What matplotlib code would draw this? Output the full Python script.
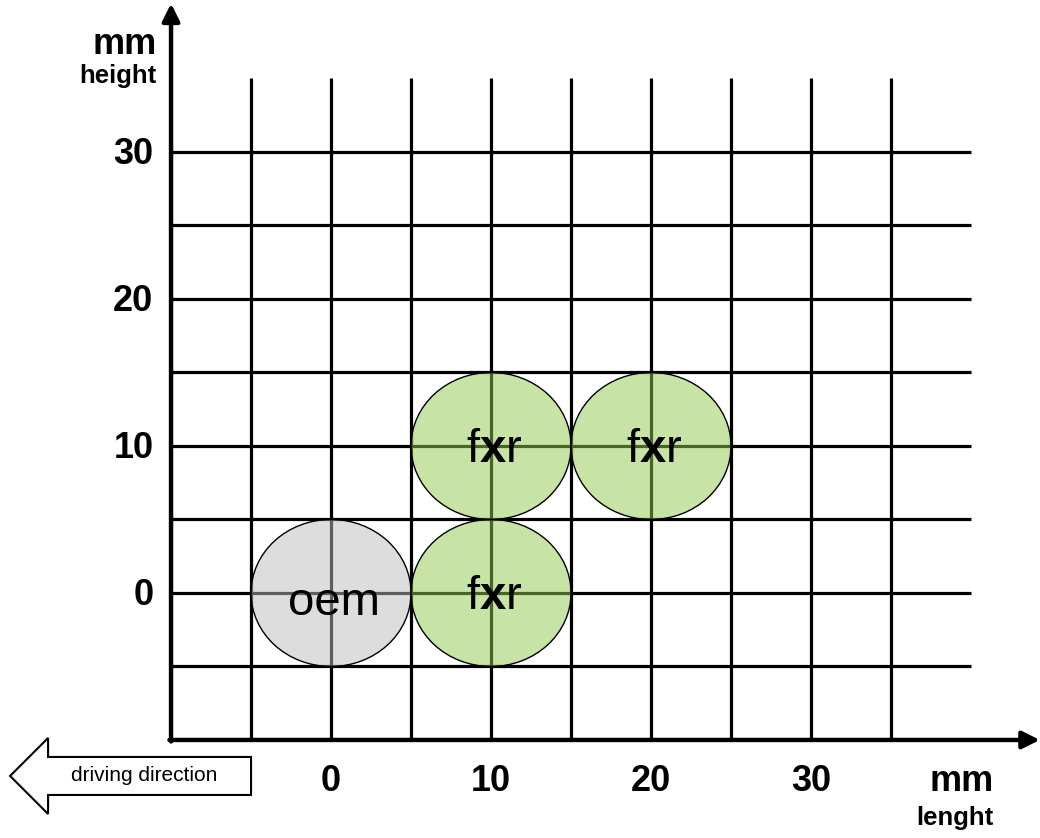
import matplotlib
matplotlib.use("Agg")
import matplotlib.pyplot as plt
from matplotlib.patches import Ellipse, FancyArrow

plt.rcParams['font.family'] = ['Liberation Sans', 'DejaVu Sans']
plt.rcParams['mathtext.fontset'] = 'custom'
plt.rcParams['mathtext.rm'] = 'Liberation Sans'
plt.rcParams['mathtext.bf'] = 'Liberation Sans:bold'

# ticks / grid (mm)
x_ticks = [0, 10, 20, 30]
y_ticks = [0, 10, 20, 30]
grid_x = [-5, 0, 5, 10, 15, 20, 25, 30, 35]
grid_y = [-5, 0, 5, 10, 15, 20, 25, 30]

# nozzles
circle_x = [0, 10, 10, 20]
circle_y = [0, 0, 10, 10]
circle_kind = ['oem', 'fxr', 'fxr', 'fxr']
circle_diam = 10

colors = {'oem': (0.74, 0.74, 0.74, 0.5), 'fxr': (0.565, 0.785, 0.30, 0.5)}
labels = {'oem': 'oem', 'fxr': r'$\mathrm{f}\mathbf{x}\mathrm{r}$'}
label_dy = {'oem': -1.5, 'fxr': -1.1}

fig = plt.figure(figsize=(10.4, 8.38), dpi=100)
ax = fig.add_axes([0, 0, 1, 1])
ax.set_xlim(-20.69, 44.31)
ax.set_ylim(-16.67, 40.34)
ax.axis('off')

# grid
ax.vlines(grid_x, -10, 35, color='black', lw=2.3, zorder=1)
ax.hlines(grid_y, -10, 40, color='black', lw=2.3, zorder=1)

# axes with arrows
ax.annotate('', xy=(44.3, -10), xytext=(-10.1, -10),
            arrowprops=dict(arrowstyle='-|>', lw=3.2, color='black', mutation_scale=26,
                            shrinkA=0, shrinkB=0), zorder=3)
ax.annotate('', xy=(-10, 40.1), xytext=(-10, -10.1),
            arrowprops=dict(arrowstyle='-|>', lw=3.2, color='black', mutation_scale=26,
                            shrinkA=0, shrinkB=0), zorder=3)

# circles
for cx, cy, k in zip(circle_x, circle_y, circle_kind):
    ax.add_patch(Ellipse((cx, cy), circle_diam, circle_diam, facecolor=colors[k],
                         edgecolor='black', lw=1.0, zorder=2))
    ax.text(cx + 0.2, cy + label_dy[k], labels[k], fontsize=34, ha='center',
            va='baseline', zorder=4)

# tick labels
for v in x_ticks:
    ax.text(v, -12.85, str(v), fontsize=26, fontweight='bold', ha='center', va='center')
for v in y_ticks:
    ax.text(-11.1, v - 0.2, str(v), fontsize=26, fontweight='bold', ha='right', va='center')

# axis titles
ax.text(-10.9, 36.7, 'mm', fontsize=26, fontweight='bold', ha='right', va='baseline')
ax.text(-10.9, 34.7, 'height', fontsize=18.5, fontweight='bold', ha='right', va='baseline')
ax.text(39.4, -13.5, 'mm', fontsize=26, fontweight='bold', ha='center', va='baseline')
ax.text(39.0, -15.8, 'lenght', fontsize=18.5, fontweight='bold', ha='center', va='baseline')

# driving direction arrow
ax.add_patch(FancyArrow(-5.0, -12.45, -15.06, 0, width=2.585, head_width=5.17,
                        head_length=2.375, length_includes_head=True,
                        facecolor='white', edgecolor='black', lw=1.5, zorder=3))
ax.text(-11.7, -12.45, 'driving direction', fontsize=15, ha='center', va='center', zorder=4)

fig.savefig('out.png', dpi=100)
